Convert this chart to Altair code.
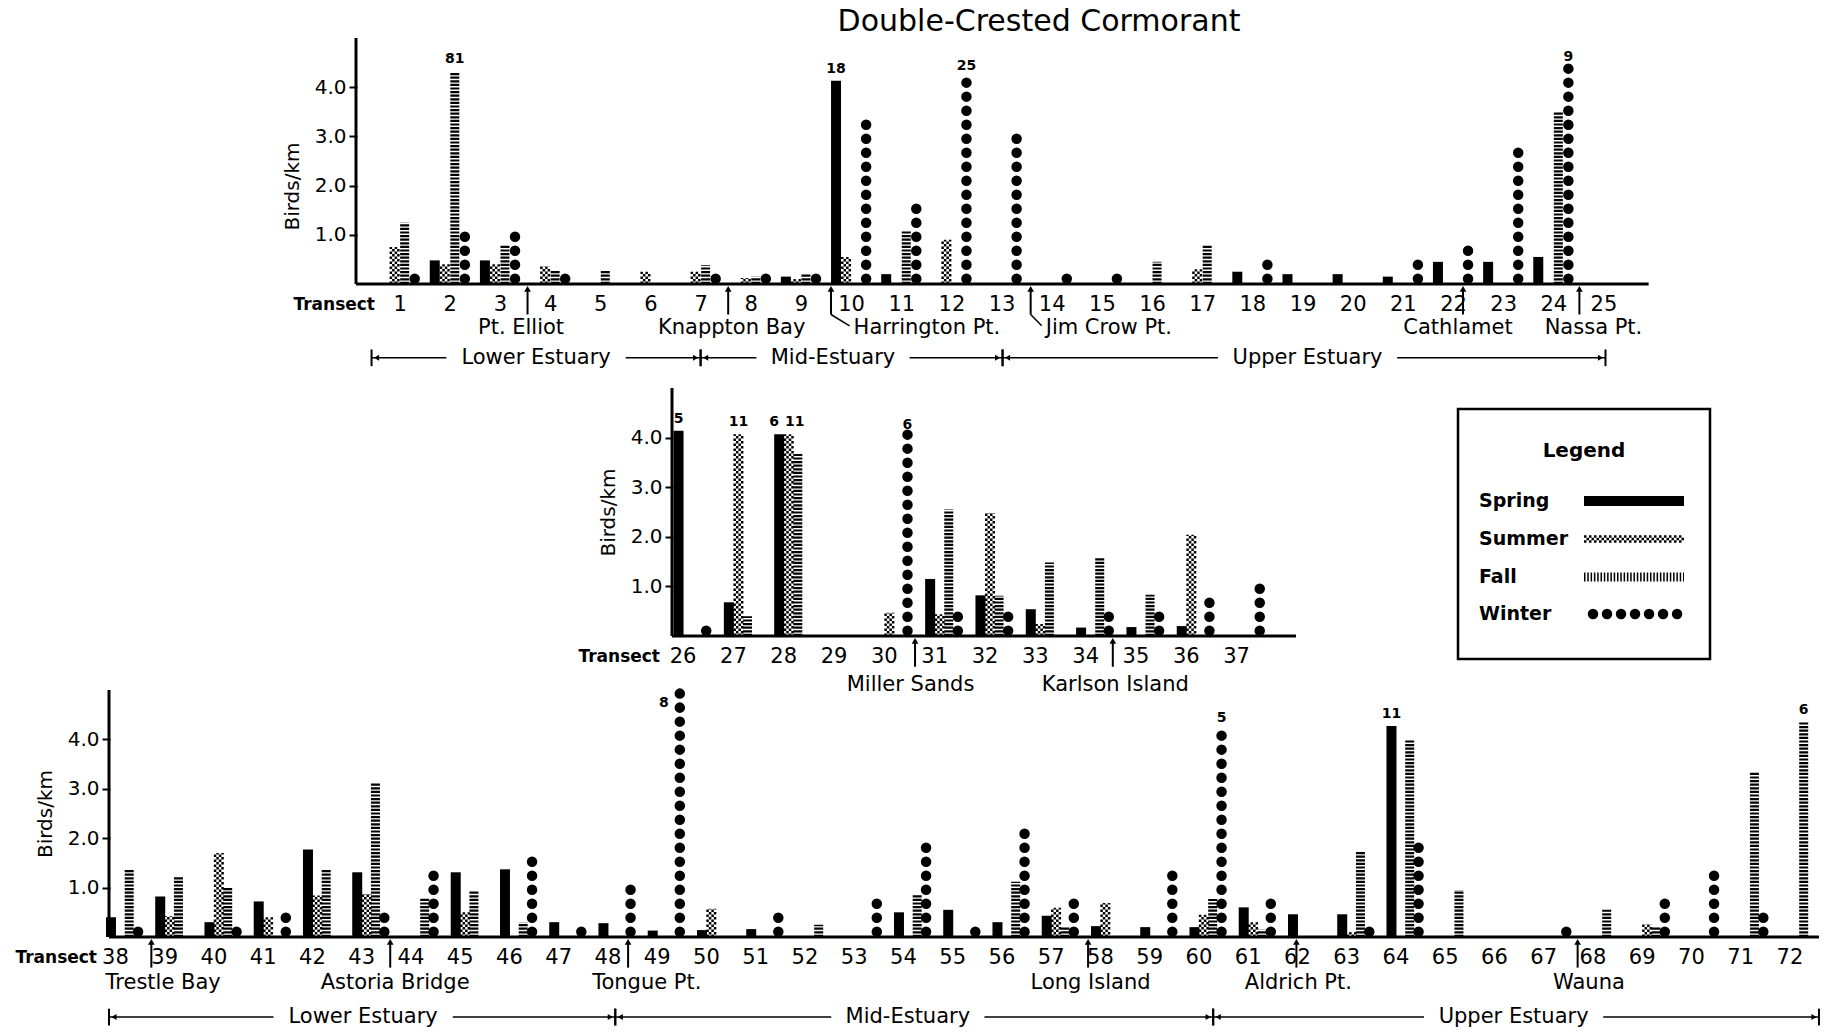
import altair as alt
import pandas as pd

FONT = "DejaVu Sans"
SEASONS = ["Spring", "Summer", "Fall", "Winter"]

# ---------------- data (birds/km, bar heights as drawn) ----------------
top_transects = list(range(1, 26))
top_spring = [0, 0.48, 0.48, 0, 0, 0, 0, 0, 0.15, 4.13, 0.2, 0, 0, 0, 0, 0, 0, 0.25, 0.2, 0.2, 0.15, 0.45, 0.45, 0.55, 0]
top_summer = [0.75, 0.4, 0.4, 0.36, 0, 0.25, 0.25, 0.12, 0.1, 0.55, 0, 0.9, 0, 0, 0, 0, 0.3, 0, 0, 0, 0, 0, 0, 0, 0]
top_fall = [1.25, 4.32, 0.78, 0.28, 0.28, 0, 0.38, 0.15, 0.2, 0, 1.1, 0, 0, 0, 0, 0.45, 0.8, 0, 0, 0, 0, 0, 0, 3.5, 0]
top_winter = [0.2, 1.0, 0.95, 0.25, 0, 0, 0.15, 0.2, 0.15, 3.35, 1.65, 4.18, 3.15, 0.2, 0.2, 0, 0, 0.6, 0, 0, 0.45, 0.7, 2.9, 4.37, 0]
top_offscale = [(2, "Fall", "81", 0, 0), (10, "Spring", "18", 0, 0), (12, "Winter", "25", 0, 0), (24, "Winter", "9", 0, 0)]

mid_transects = list(range(26, 38))
mid_spring = [4.14, 0.68, 4.07, 0, 0, 1.15, 0.82, 0.54, 0.17, 0.18, 0.2, 0]
mid_summer = [0, 4.07, 4.07, 0, 0.47, 0.44, 2.48, 0.24, 0, 0, 2.04, 0]
mid_fall = [0, 0.4, 3.67, 0, 0, 2.55, 0.81, 1.48, 1.59, 0.83, 0, 0]
mid_winter = [0.18, 0, 0, 0, 4.02, 0.45, 0.44, 0, 0.6, 0.42, 0.72, 1.0]
mid_offscale = [(26, "Spring", "5", 0, 0), (27, "Summer", "11", 0, 0), (28, "Spring", "6", -5, 0),
                (28, "Summer", "11", 6, 0), (30, "Winter", "6", 0, 0)]

bot_transects = list(range(38, 73))
bot_spring = [0.4, 0.82, 0.3, 0.72, 1.77, 1.31, 0, 1.31, 1.37, 0.3, 0.28, 0.13, 0.14, 0.16, 0, 0, 0.5, 0.55,
              0.3, 0.43, 0.22, 0.2, 0.2, 0.6, 0.46, 0.46, 4.27, 0, 0, 0, 0, 0, 0, 0, 0]
bot_summer = [0, 0.42, 1.7, 0.4, 0.84, 0.87, 0, 0.5, 0, 0, 0, 0, 0.57, 0, 0, 0, 0, 0,
              0, 0.59, 0.69, 0, 0.45, 0.3, 0, 0.1, 0, 0, 0, 0, 0, 0.26, 0, 0, 0]
bot_fall = [1.37, 1.23, 1.02, 0, 1.37, 3.13, 0.8, 0.94, 0.3, 0, 0, 0, 0, 0, 0.25, 0, 0.85, 0,
            1.12, 0.2, 0, 0, 0.77, 0.15, 0, 1.74, 4.0, 0.95, 0, 0, 0.55, 0.2, 0, 3.35, 4.35]
bot_winter = [0.2, 0, 0.2, 0.37, 0, 0.38, 1.3, 0, 1.67, 0.27, 1.0, 4.93, 0, 0.5, 0, 0.67, 1.85, 0.28,
              2.2, 0.89, 0, 1.25, 4.2, 0.78, 0, 0.19, 1.85, 0, 0, 0.2, 0, 0.68, 1.3, 0.53, 0]
bot_offscale = [(49, "Winter", "8", -16, 22), (60, "Winter", "5", 0, 0), (64, "Spring", "11", 0, 0),
                (72, "Fall", "6", 0, 0)]

# landmarks: (name, arrow position, text position, text align, bend)
top_landmarks = [("Pt. Elliot", 3.55, 3.42, "center", False), ("Knappton Bay", 7.55, 7.62, "center", False),
                 ("Harrington Pt.", 9.6, 10.05, "left", True), ("Jim Crow Pt.", 13.58, 13.88, "left", True),
                 ("Cathlamet", 22.2, 22.1, "center", False), ("Nassa Pt.", 24.52, 24.8, "center", False)]
mid_landmarks = [("Miller Sands", 30.62, 30.53, "center", False), ("Karlson Island", 34.55, 34.6, "center", False)]
bot_landmarks = [("Trestle Bay", 38.74, 38.98, "center", False), ("Astoria Bridge", 43.59, 43.69, "center", False),
                 ("Tongue Pt.", 48.42, 48.8, "center", False), ("Long Island", 57.76, 57.81, "center", False),
                 ("Aldrich Pt.", 61.99, 62.03, "center", False), ("Wauna", 67.7, 67.93, "center", False)]

# estuary regions: (name, start, end, label centre)
top_regions = [("Lower Estuary", 0.44, 7.0, 3.72), ("Mid-Estuary", 7.0, 13.02, 9.64), ("Upper Estuary", 13.02, 25.04, 19.1)]
bot_regions = [("Lower Estuary", 37.88, 48.16, 43.04), ("Mid-Estuary", 48.16, 60.3, 54.1), ("Upper Estuary", 60.3, 72.6, 66.4)]

FULL_W = 1710
DOT_PITCH = 14.0
SUMMER_COLS = [(-3.75, 0), (-1.25, 2.5), (1.25, 0), (3.75, 2.5)]   # (px offset, dash offset)


def long_df(transects, spring, summer, fall, winter):
    rows = []
    for i, t in enumerate(transects):
        for s, arr in zip(SEASONS, (spring, summer, fall, winter)):
            rows.append({"transect": t, "season": s, "value": arr[i]})
    return pd.DataFrame(rows)


def panel(df, offscale, landmarks, regions, ax0, ax1, step, left_px, height, ymin, offsets,
          transect_dx, land_y, region_y, extra=None, title=None):
    xdom = [ax0 - left_px / step, ax0 + (FULL_W - left_px) / step]
    unit = height / (5 - ymin)
    xs = alt.Scale(domain=xdom, nice=False, zero=False)
    ys = alt.Scale(domain=[ymin, 5], nice=False, zero=False)
    ticks = sorted(df["transect"].unique().tolist())
    x_axis = alt.Axis(values=ticks, format="d", title=None, ticks=False, labelFontSize=21, labelFont=FONT,
                      labelColor="black", domain=False, labelPadding=9, grid=False, labelFlush=False,
                      labelOverlap=False, offset=ymin * unit)
    y_axis = alt.Axis(values=[1, 2, 3, 4], format=".1f", title="Birds/km", titleFontSize=20, titleFont=FONT,
                      titleFontWeight="normal", titleColor="black", labelFontSize=20, labelFont=FONT,
                      labelColor="black", tickSize=8, tickWidth=2, tickColor="black", domain=False,
                      grid=False, titlePadding=12, labelPadding=3, offset=-left_px - 1)

    def X(f):
        return alt.X(f, scale=xs, axis=x_axis)

    def Y(f):
        return alt.Y(f, scale=ys, axis=y_axis)

    off = offsets
    xexpr = (f"datum.transect + (datum.season == 'Spring' ? {off[0]} : datum.season == 'Summer' ? {off[1]} : "
             f"datum.season == 'Fall' ? {off[2]} : {off[3]})")
    base = alt.Chart(df).transform_filter("datum.value > 0").transform_calculate(
        xpos=xexpr, base="0", wtop=f"datum.value + {2.5 / unit}")

    adf = pd.DataFrame({"x0": [ax0], "x1": [ax1], "y0": [0.0], "y1": [5.0]})
    xline = alt.Chart(adf).mark_rule(color="black", strokeWidth=3).encode(x=X("x0:Q"), x2="x1:Q", y=Y("y0:Q"))
    yline = alt.Chart(adf).mark_rule(color="black", strokeWidth=3).encode(x=X("x0:Q"), y=Y("y0:Q"), y2="y1:Q")

    spring = base.transform_filter("datum.season == 'Spring'").mark_rule(
        color="black", strokeWidth=10, strokeCap="butt").encode(x=X("xpos:Q"), y=Y("value:Q"), y2="base:Q")
    summers = []
    for px, doff in SUMMER_COLS:
        summers.append(base.transform_filter("datum.season == 'Summer'").transform_calculate(
            xs_=f"datum.xpos + {px / step}").mark_rule(
            color="black", strokeWidth=2.5, strokeDash=[2.5, 2.5], strokeDashOffset=doff, strokeCap="butt").encode(
            x=X("xs_:Q"), y=Y("base:Q"), y2="value:Q"))
    fall = base.transform_filter("datum.season == 'Fall'").mark_rule(
        color="black", strokeWidth=9, strokeDash=[2.2, 1.4], strokeCap="butt").encode(
        x=X("xpos:Q"), y=Y("base:Q"), y2="value:Q")
    winter = base.transform_filter("datum.season == 'Winter'").mark_rule(
        color="black", strokeWidth=10.5, strokeDash=[0.01, DOT_PITCH], strokeDashOffset=DOT_PITCH - 5.2,
        strokeCap="round").encode(x=X("xpos:Q"), y=Y("base:Q"), y2="wtop:Q")

    odf = pd.DataFrame(offscale, columns=["transect", "season", "label", "ndx", "ndy"])
    odf = odf.merge(df, on=["transect", "season"])
    offtexts = []
    for _, r in odf.iterrows():
        sub = odf[(odf["transect"] == r["transect"]) & (odf["season"] == r["season"])]
        offtexts.append(alt.Chart(sub).transform_calculate(xpos=xexpr).mark_text(
            font=FONT, fontSize=14, fontWeight="bold", baseline="bottom", dx=float(r["ndx"]),
            dy=-5 + float(r["ndy"]), color="black").encode(x=X("xpos:Q"), y=Y("value:Q"), text="label:N"))

    tdf = pd.DataFrame({"x": [ax0], "y": [-0.43], "t": ["Transect"]})
    tword = alt.Chart(tdf).mark_text(font=FONT, fontSize=17, fontWeight="bold", align="right",
                                     baseline="middle", dx=transect_dx, color="black").encode(
        x=X("x:Q"), y=Y("y:Q"), text="t:N")

    layers = [spring] + summers + [fall, winter, xline, yline] + offtexts + [tword]

    ldf = pd.DataFrame([{"name": n, "ax": a, "tx": t, "align": al, "bend": b,
                         "y1": -0.1, "y2": -0.62, "ty": land_y} for n, a, t, al, b in landmarks])
    ldf["bx2"] = ldf["tx"] - 0.08
    ldf["by2"] = land_y + 0.05
    arrow_shaft = alt.Chart(ldf).mark_rule(color="black", strokeWidth=2).encode(
        x=X("ax:Q"), y=Y("y1:Q"), y2="y2:Q")
    arrow_head = alt.Chart(ldf).mark_point(shape="triangle-up", filled=True, size=45, color="black",
                                           opacity=1).encode(x=X("ax:Q"), y=Y("y1:Q"))
    bend = alt.Chart(ldf).transform_filter("datum.bend").mark_rule(color="black", strokeWidth=1.5).encode(
        x=X("ax:Q"), x2="bx2:Q", y=Y("y2:Q"), y2="by2:Q")
    ltext_c = alt.Chart(ldf).transform_filter("datum.align == 'center'").mark_text(
        font=FONT, fontSize=21, align="center", baseline="middle", color="black").encode(
        x=X("tx:Q"), y=Y("ty:Q"), text="name:N")
    ltext_l = alt.Chart(ldf).transform_filter("datum.align == 'left'").mark_text(
        font=FONT, fontSize=21, align="left", baseline="middle", color="black").encode(
        x=X("tx:Q"), y=Y("ty:Q"), text="name:N")
    layers += [arrow_shaft, arrow_head, bend, ltext_c, ltext_l]

    if regions:
        segs, heads, tks, txts = [], [], [], []
        for name, a, b, c in regions:
            hw = (len(name) * 0.62 * 21 / 2 + 5) / step
            segs += [{"x": a, "x2": c - hw, "y": region_y}, {"x": c + hw, "x2": b, "y": region_y}]
            heads += [{"x": a + 5 / step, "y": region_y, "d": "L"}, {"x": b - 5 / step, "y": region_y, "d": "R"}]
            tks += [{"x": a, "y": region_y - 0.17, "y2": region_y + 0.17},
                    {"x": b, "y": region_y - 0.17, "y2": region_y + 0.17}]
            txts.append({"x": c, "y": region_y, "t": name})
        seg = alt.Chart(pd.DataFrame(segs)).mark_rule(color="black", strokeWidth=1.5).encode(
            x=X("x:Q"), x2="x2:Q", y=Y("y:Q"))
        head = alt.Chart(pd.DataFrame(heads)).mark_point(filled=True, size=35, color="black", opacity=1).encode(
            x=X("x:Q"), y=Y("y:Q"),
            shape=alt.Shape("d:N", scale=alt.Scale(domain=["L", "R"], range=["triangle-left", "triangle-right"]),
                            legend=None))
        tk = alt.Chart(pd.DataFrame(tks)).mark_rule(color="black", strokeWidth=2).encode(
            x=X("x:Q"), y=Y("y:Q"), y2="y2:Q")
        rtxt = alt.Chart(pd.DataFrame(txts)).mark_text(font=FONT, fontSize=21, baseline="middle",
                                                      color="black").encode(
            x=X("x:Q"), y=Y("y:Q"), text="t:N")
        layers += [seg, head, tk, rtxt]

    if extra:
        layers += extra

    props = dict(width=FULL_W, height=height)
    if title:
        props["title"] = alt.TitleParams(title, font=FONT, fontSize=30, fontWeight="normal", color="black",
                                         anchor="middle", dx=75, offset=0)
    return alt.layer(*layers).properties(**props)


# ---------------- legend (drawn inside the middle row, pixel placement) ----------------
def legend_layers(bx, by, bw, bh):
    one = pd.DataFrame({"k": [0]})
    box = alt.Chart(one).mark_rect(fill="white", stroke="black", strokeWidth=2.5).encode(
        x=alt.value(bx), x2=alt.value(bx + bw), y=alt.value(by), y2=alt.value(by + bh))
    ttl = alt.Chart(pd.DataFrame({"t": ["Legend"]})).mark_text(
        font=FONT, fontSize=20, fontWeight="bold", color="black", baseline="middle", align="center").encode(
        x=alt.value(bx + 126), y=alt.value(by + 42), text="t:N")
    out = [box, ttl]
    row_y = [by + 92, by + 130, by + 168, by + 205]
    sx0, sx1 = bx + 126, bx + 226
    for i, s in enumerate(SEASONS):
        d = pd.DataFrame({"season": [s]})
        out.append(alt.Chart(d).mark_text(font=FONT, fontSize=19, fontWeight="bold", align="left",
                                          baseline="middle", color="black").encode(
            x=alt.value(bx + 21), y=alt.value(row_y[i]), text="season:N"))
        if s == "Spring":
            out.append(alt.Chart(d).mark_rule(color="black", strokeWidth=10, strokeCap="butt").encode(
                x=alt.value(sx0), x2=alt.value(sx1), y=alt.value(row_y[i])))
        elif s == "Summer":
            for k, (dy, doff) in enumerate([(-2.5, 0), (0, 2.5), (2.5, 0)]):
                out.append(alt.Chart(d).mark_rule(color="black", strokeWidth=2.5, strokeDash=[2.5, 2.5],
                                                  strokeDashOffset=doff, strokeCap="butt").encode(
                    x=alt.value(sx0), x2=alt.value(sx1), y=alt.value(row_y[i] + dy)))
        elif s == "Fall":
            out.append(alt.Chart(d).mark_rule(color="black", strokeWidth=9, strokeDash=[1.5, 1.8],
                                              strokeCap="butt").encode(
                x=alt.value(sx0), x2=alt.value(sx1), y=alt.value(row_y[i])))
        else:
            out.append(alt.Chart(d).mark_rule(color="black", strokeWidth=10.5, strokeDash=[0.01, 14],
                                              strokeDashOffset=9, strokeCap="round").encode(
                x=alt.value(sx0 + 4), x2=alt.value(sx1 + 4), y=alt.value(row_y[i])))
    return out


TOP_EXT = 50 / 49.2   # extra space below the top panel's baseline (in data units)

top = panel(long_df(top_transects, top_spring, top_summer, top_fall, top_winter), top_offscale,
            top_landmarks, top_regions, 0.13, 25.9, 50.16, 247, 296, -TOP_EXT, [-0.3, -0.1, 0.1, 0.3],
            19, -0.9, -1.5, title="Double-Crested Cormorant")
mid = panel(long_df(mid_transects, mid_spring, mid_summer, mid_fall, mid_winter), mid_offscale,
            mid_landmarks, [], 25.79, 38.19, 50.32, 563, 248, 0, [-0.08, 0.11, 0.29, 0.47],
            -12, -0.98, -1.5, extra=legend_layers(1349, 21, 252, 250))
bot = panel(long_df(bot_transects, bot_spring, bot_summer, bot_fall, bot_winter), bot_offscale,
            bot_landmarks, bot_regions, 37.88, 72.6, 49.25, 0, 247, 0, [-0.08, 0.11, 0.29, 0.47],
            -12, -0.93, -1.62)

chart = alt.vconcat(top, mid, bot, spacing=54, bounds="flush")
chart = chart.properties(padding={"left": 15, "top": 6, "right": 5, "bottom": 5}, background="white").configure_view(
    stroke=None)

chart.save("out.html", embed_options={"renderer": "svg", "actions": False})
